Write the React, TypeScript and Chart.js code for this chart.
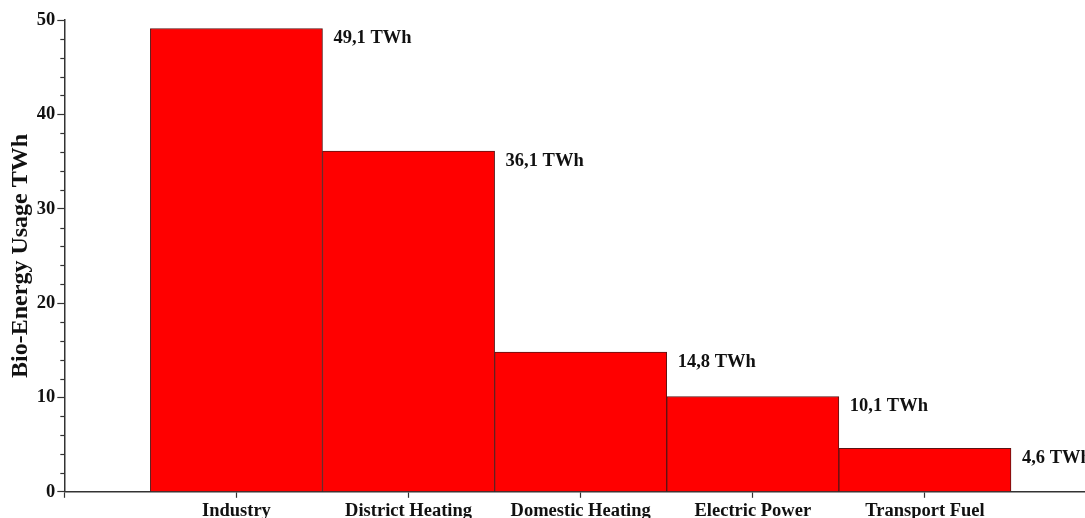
import React, { useEffect, useRef } from 'react';
import { Chart, registerables } from 'chart.js';

Chart.register(...registerables);

const categories = ['Industry', 'District Heating', 'Domestic Heating', 'Electric Power', 'Transport Fuel'];
const usageTWh = [49.1, 36.1, 14.8, 10.1, 4.6];
const valueLabels = ['49,1 TWh', '36,1 TWh', '14,8 TWh', '10,1 TWh', '4,6 TWh'];
const yMajorTicks = [0, 10, 20, 30, 40, 50];
const yMinorStep = 2;
const yTitle = 'Bio-Energy Usage TWh';

const FONT = '"Liberation Serif", "Times New Roman", serif';
const AXIS_COLOR = '#333333';
const LABEL_SIZE = 18.5;

const minorTicksPlugin = {
  id: 'minorTicks',
  afterDraw(chart: any) {
    const y = chart.scales.y;
    const ctx = chart.ctx;
    ctx.save();
    ctx.strokeStyle = AXIS_COLOR;
    ctx.lineWidth = 1.2;
    const max = yMajorTicks[yMajorTicks.length - 1];
    for (let v = 0; v <= max; v += yMinorStep) {
      if (v % 10 === 0) continue;
      const py = Math.round(y.getPixelForValue(v)) + 0.5;
      ctx.beginPath();
      ctx.moveTo(chart.chartArea.left - 4, py);
      ctx.lineTo(chart.chartArea.left, py);
      ctx.stroke();
    }
    ctx.restore();
  },
};

const valueLabelPlugin = {
  id: 'valueLabels',
  afterDatasetsDraw(chart: any) {
    const meta = chart.getDatasetMeta(0);
    const ctx = chart.ctx;
    ctx.save();
    ctx.font = `bold ${LABEL_SIZE}px ${FONT}`;
    ctx.fillStyle = '#111111';
    ctx.textAlign = 'left';
    ctx.textBaseline = 'middle';
    meta.data.forEach((el: any, i: number) => {
      const right = el.x + el.width / 2;
      ctx.fillText(valueLabels[i], right + 11, el.y + 10);
    });
    ctx.restore();
  },
};

export default function App() {
  const ref = useRef<HTMLCanvasElement>(null);

  useEffect(() => {
    if (!ref.current) return;
    const chart = new Chart(ref.current, {
      type: 'bar',
      data: {
        datasets: [
          {
            data: categories.map((c, i) => ({ x: i + 1, y: usageTWh[i] })),
            backgroundColor: '#ff0000',
            borderColor: '#5a1414',
            borderWidth: 1,
            barPercentage: 1,
            categoryPercentage: 1,
          },
        ],
      },
      options: {
        animation: false,
        responsive: true,
        maintainAspectRatio: false,
        layout: { padding: { top: 20, right: 0, bottom: -6, left: 6 } },
        plugins: {
          legend: { display: false },
          tooltip: { enabled: false },
        },
        scales: {
          x: {
            type: 'linear',
            offset: false,
            min: 0,
            max: 5.93,
            afterBuildTicks: (scale: any) => {
              scale.ticks = [0, 1, 2, 3, 4, 5].map((v) => ({ value: v }));
            },
            grid: {
              offset: false,
              drawOnChartArea: false,
              tickLength: 6,
              tickColor: AXIS_COLOR,
              tickWidth: 1.2,
            },
            border: { color: AXIS_COLOR, width: 1.5 },
            ticks: {
              autoSkip: false,
              maxRotation: 0,
              padding: 2,
              color: '#111111',
              font: { family: FONT, size: LABEL_SIZE, weight: 'bold' },
              callback: (v: any) => (v >= 1 && v <= categories.length ? categories[v - 1] : ''),
            },
          },
          y: {
            min: 0,
            max: 50,
            afterBuildTicks: (scale: any) => {
              scale.ticks = yMajorTicks.map((v) => ({ value: v }));
            },
            grid: {
              drawOnChartArea: false,
              tickLength: 7,
              tickColor: AXIS_COLOR,
              tickWidth: 1.2,
            },
            border: { color: AXIS_COLOR, width: 1.5 },
            ticks: {
              padding: 2,
              color: '#111111',
              font: { family: FONT, size: LABEL_SIZE, weight: 'bold' },
            },
            title: {
              display: true,
              text: yTitle,
              color: '#111111',
              font: { family: FONT, size: 24, weight: 'bold' },
              padding: { top: 0, bottom: 0 },
            },
          },
        },
      },
      plugins: [minorTicksPlugin, valueLabelPlugin],
    });
    return () => chart.destroy();
  }, []);

  return (
    <div style={{ position: 'fixed', left: 0, top: 0, width: 1085, height: 518, background: '#fff' }}>
      <canvas ref={ref} />
    </div>
  );
}
